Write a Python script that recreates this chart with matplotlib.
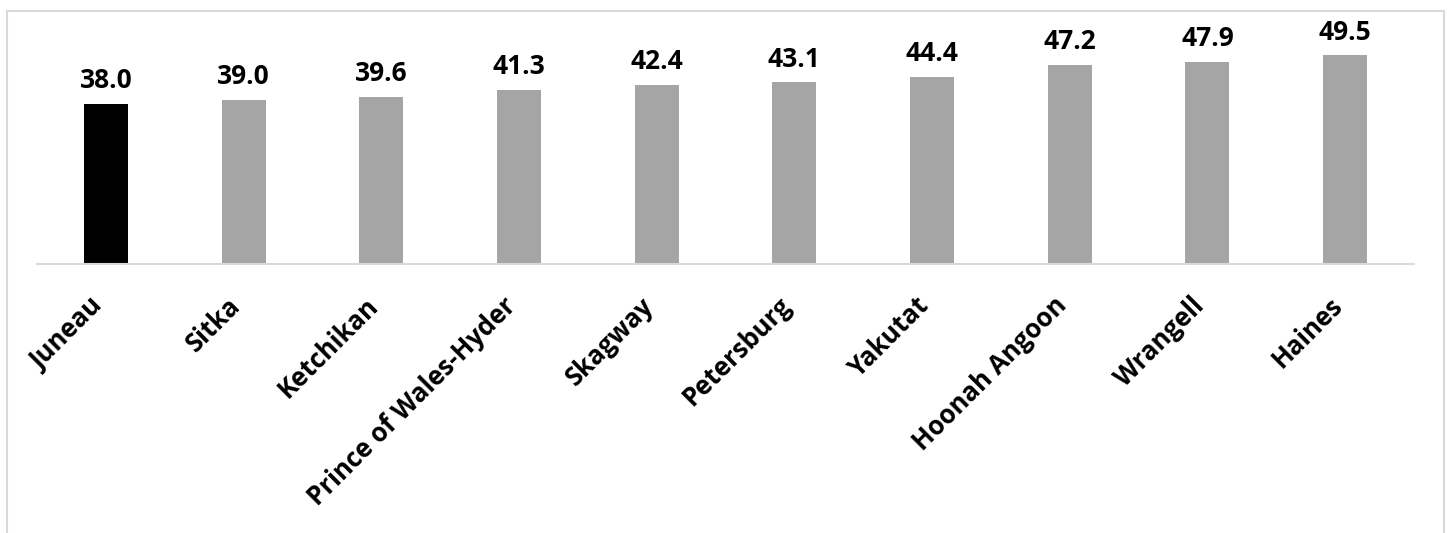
import matplotlib
matplotlib.use("Agg")
import matplotlib.pyplot as plt
import matplotlib.transforms as mtransforms
from matplotlib.lines import Line2D

# boroughs and their values (median age)
places = ["Juneau", "Sitka", "Ketchikan", "Prince of Wales-Hyder", "Skagway",
          "Petersburg", "Yakutat", "Hoonah Angoon", "Wrangell", "Haines"]
values = [38.0, 39.0, 39.6, 41.3, 42.4, 43.1, 44.4, 47.2, 47.9, 49.5]
highlight = "Juneau"

plt.rcParams['font.family'] = ['Open Sans', 'DejaVu Sans']

W, H = 1450, 533
fig = plt.figure(figsize=(W / 100, H / 100), dpi=100)

# plot area in pixel terms: baseline at y=264, x from 37 to 1414
left, right, bottom, top = 37, 1414, 264, 11
ax = fig.add_axes([left / W, 1 - bottom / H, (right - left) / W, (bottom - top) / H])

colors = ['#000000' if p == highlight else '#A5A5A5' for p in places]
x = range(len(places))
bars = ax.bar(x, values, width=0.32, color=colors)

for b, v in zip(bars, values):
    ax.annotate(f"{v:.1f}", (b.get_x() + b.get_width() / 2, v),
                xytext=(0, 7), textcoords='offset points',
                ha='center', va='bottom', fontsize=19, fontweight='bold')

ax.set_xlim(-0.5, len(places) - 0.5)
ax.set_ylim(0, 60)
ax.set_xticks(list(x))
ax.set_xticklabels(places, rotation=45, ha='right', va='center',
                   rotation_mode='anchor', fontsize=18.5, fontweight='bold')
ax.tick_params(axis='x', length=0, pad=27)
# nudge the rotated labels a little to the left
shift = mtransforms.ScaledTranslation(-0.07, 0, fig.dpi_scale_trans)
for lbl in ax.get_xticklabels():
    lbl.set_transform(lbl.get_transform() + shift)
ax.set_yticks([])
for s in ['top', 'right', 'left']:
    ax.spines[s].set_visible(False)
ax.spines['bottom'].set_color('#D9D9D9')
ax.spines['bottom'].set_linewidth(1.5)

# outer chart frame (light gray, open at the bottom)
fc = '#D9D9D9'
fx0, fx1, fy = 7 / W, 1444 / W, 1 - 11 / H
fig.add_artist(Line2D([fx0, fx1], [fy, fy], color=fc, lw=1.5, transform=fig.transFigure))
fig.add_artist(Line2D([fx0, fx0], [fy, 0], color=fc, lw=1.5, transform=fig.transFigure))
fig.add_artist(Line2D([fx1, fx1], [fy, 0], color=fc, lw=1.5, transform=fig.transFigure))

fig.savefig("out.png", dpi=100)
